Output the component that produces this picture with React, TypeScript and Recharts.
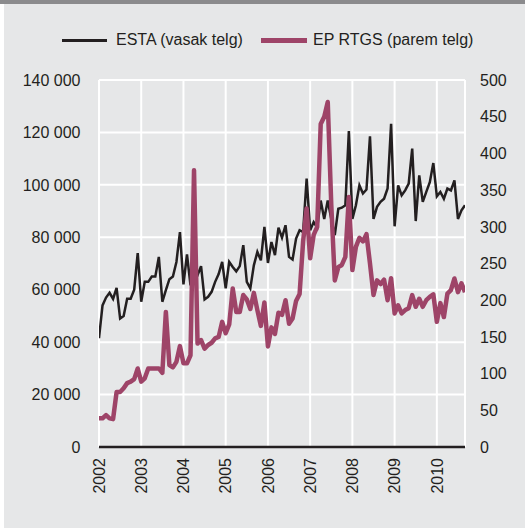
import React from 'react'
import { LineChart, Line, XAxis, YAxis, CartesianGrid } from 'recharts'

// monthly values, Jan 2002 .. Sep 2010
const estaThousands = [
  41.5, 54, 57, 58.8, 56.5, 60.7, 49, 50, 56.6, 56.6, 60, 74,
  55.4, 63, 63, 65, 65, 72.5, 55.4, 59.8, 64, 65, 70.6, 82,
  62, 73.5, 61.7, 66.2, 65.5, 69, 56.3, 57.3, 59.2, 63, 66, 70.6,
  60.5, 70.6, 68.7, 67, 69, 77, 63, 60.5, 69.3, 74.4, 71.2, 84,
  70.2, 78.2, 73.2, 83.7, 79.9, 84.6, 72.5, 71.5, 79.5, 82.7, 82, 102.4,
  82.7, 85.8, 83.7, 94, 87, 94, 87, 80.8, 90.9, 91.3, 92.2, 120.5,
  87, 92.2, 99.8, 96.7, 98.2, 118.5, 87, 91.6, 93.5, 94.7, 98.6, 123.3,
  84.2, 99.8, 96, 97.9, 100.5, 113.8, 86.2, 103.6, 93.5, 97.3, 101, 108.3,
  95.6, 97.3, 94.7, 98.6, 97.9, 101.7, 87, 90.3, 92.2,
]

const epRtgs = [
  39, 39, 43.5, 39, 38, 75, 75, 80, 87, 89, 92.5, 107,
  89, 93.5, 107, 107, 107, 107, 101, 184, 111.6, 108.5, 116, 137.5,
  114, 114, 125, 377, 141, 145.6, 134, 139, 142, 148, 150, 170.5,
  155, 167, 216, 184, 184, 207, 201, 188, 210, 186.5, 165, 197,
  137, 163, 154, 183, 180, 200, 168, 175, 199, 208.5, 280, 325,
  257, 289, 300, 440, 450, 470, 330, 227, 245, 248, 259, 340.6,
  241, 272.6, 285, 280, 290, 250, 207, 227, 222, 228, 200, 230,
  182, 193, 182, 186.5, 189, 207, 191, 202, 191, 200, 204.5, 208,
  170.5, 196, 177, 209, 213.7, 229.6, 211, 223, 211,
]

const startYear = 2002
const years = [2002, 2003, 2004, 2005, 2006, 2007, 2008, 2009, 2010]
const leftTicks = [0, 20000, 40000, 60000, 80000, 100000, 120000, 140000]
const rightTicks = [0, 50, 100, 150, 200, 250, 300, 350, 400, 450, 500]

const data = estaThousands.map((v, i) => ({
  t: startYear + i / 12,
  esta: v * 1000,
  ep: epRtgs[i],
}))

const INK = '#231f20'
const PINK = '#9e4468'
const FONT = '"Liberation Sans", Arial, Helvetica, sans-serif'
const FS = 16

const fmtThousands = (v: number) =>
  String(v).replace(/\B(?=(\d{3})+(?!\d))/g, ' ')

const YearTick = ({ x, y, payload }: any) => (
  <text
    x={x}
    y={y}
    transform={`rotate(-90 ${x} ${y})`}
    textAnchor="end"
    dy="0.36em"
    fill={INK}
    fontSize={FS}
    fontFamily={FONT}
  >
    {payload.value}
  </text>
)

const LeftTick = ({ x, y, payload }: any) => (
  <text x={x} y={y} dy="0.36em" textAnchor="end" fill={INK} fontSize={FS} fontFamily={FONT}>
    {fmtThousands(payload.value)}
  </text>
)

const RightTick = ({ x, y, payload }: any) => (
  <text x={x} y={y} dy="0.36em" textAnchor="start" fill={INK} fontSize={FS} fontFamily={FONT}>
    {payload.value}
  </text>
)

export default function App() {
  return (
    <div style={{ position: 'relative', width: 525, height: 528, background: '#fff', fontFamily: FONT }}>
      <style>{'body{margin:0}'}</style>
      <div style={{ position: 'absolute', left: 0, top: 0, width: 525, height: 4, background: '#8b8b8d' }} />
      <div style={{ position: 'absolute', left: 4, top: 4, width: 521, height: 524, background: '#e6e7e8' }} />

      <div style={{ position: 'absolute', left: 62, top: 39, width: 45, height: 3, background: INK }} />
      <div style={{ position: 'absolute', left: 116, top: 30, fontSize: FS, lineHeight: '20px', color: INK }}>
        ESTA (vasak telg)
      </div>
      <div style={{ position: 'absolute', left: 261, top: 38, width: 46, height: 4.5, background: PINK }} />
      <div style={{ position: 'absolute', left: 313, top: 30, fontSize: FS, lineHeight: '20px', color: INK }}>
        EP RTGS (parem telg)
      </div>

      <div style={{ position: 'absolute', left: 0, top: 0 }}>
        <LineChart width={525} height={528} data={data} margin={{ top: 80, right: 0, bottom: 0, left: 0 }}>
          <CartesianGrid stroke="#ffffff" strokeWidth={2} yAxisId="left" />
          <XAxis
            dataKey="t"
            type="number"
            domain={[startYear, startYear + (estaThousands.length - 1) / 12]}
            ticks={years}
            allowDataOverflow
            height={81}
            tickLine={false}
            tickMargin={5}
            axisLine={{ stroke: INK, strokeWidth: 2.5 }}
            tick={<YearTick />}
            interval={0}
          />
          <YAxis
            yAxisId="left"
            orientation="left"
            width={99}
            domain={[0, 140000]}
            ticks={leftTicks}
            axisLine={false}
            tickLine={false}
            tickMargin={12.5}
            tick={<LeftTick />}
            interval={0}
          />
          <YAxis
            yAxisId="right"
            orientation="right"
            width={60}
            domain={[0, 500]}
            ticks={rightTicks}
            axisLine={false}
            tickLine={false}
            tickMargin={9}
            tick={<RightTick />}
            interval={0}
          />
          <Line
            yAxisId="left"
            type="linear"
            dataKey="esta"
            stroke={INK}
            strokeWidth={2.5}
            dot={false}
            isAnimationActive={false}
          />
          <Line
            yAxisId="right"
            type="linear"
            dataKey="ep"
            stroke={PINK}
            strokeWidth={4.5}
            strokeLinejoin="round"
            dot={false}
            isAnimationActive={false}
          />
        </LineChart>
      </div>
    </div>
  )
}
